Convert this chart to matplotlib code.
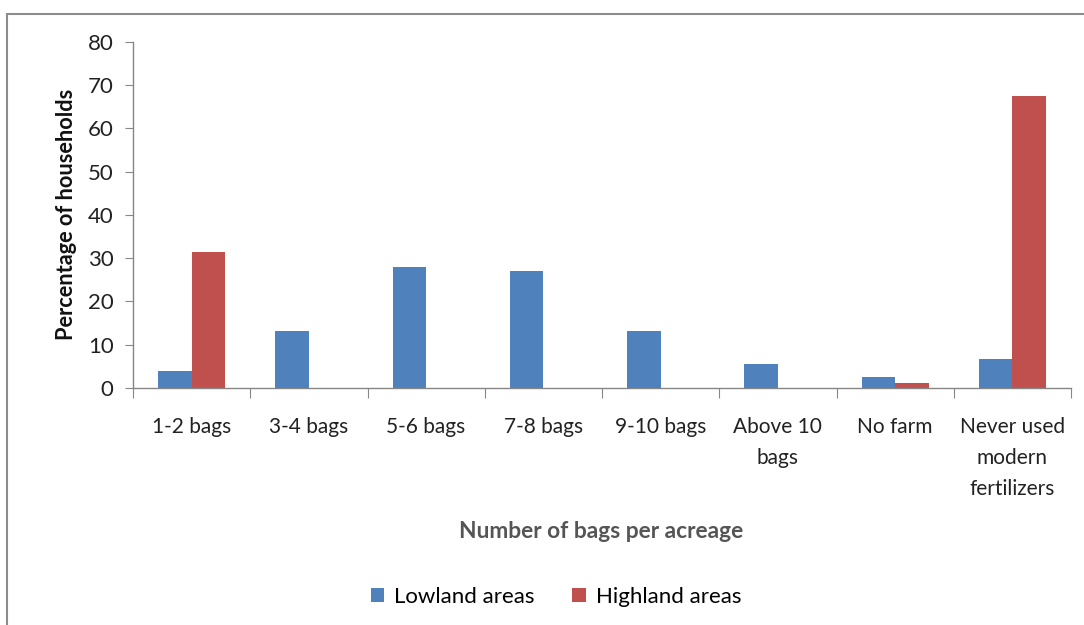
import matplotlib
matplotlib.use("Agg")
import matplotlib.pyplot as plt
import numpy as np
from matplotlib.patches import Rectangle

categories = ["1-2 bags", "3-4 bags", "5-6 bags", "7-8 bags", "9-10 bags",
              "Above 10\nbags", "No farm", "Never used\nmodern\nfertilizers"]
lowland = [3.9, 13.2, 28.0, 27.0, 13.2, 5.5, 2.5, 6.7]
highland = [31.5, 0, 0, 0, 0, 0, 1.2, 67.4]
yticks = [0, 10, 20, 30, 40, 50, 60, 70, 80]

plt.rcParams['font.family'] = ['Lato', 'DejaVu Sans']

W, H = 1084, 625
fig = plt.figure(figsize=(W / 100, H / 100), dpi=100)
fig.patches.append(Rectangle((7 / W, -0.1), 1.2, 1 - 14 / H + 0.1, transform=fig.transFigure,
                             fill=False, edgecolor="#8c8c8c", linewidth=1.5))
ax = fig.add_axes([133 / W, 1 - 388 / H, (1071 - 133) / W, (388 - 41.7) / H])

x = np.arange(len(categories))
bw = 0.285
ax.bar(x - bw / 2, lowland, bw, color="#4F81BD", label="Lowland areas")
ax.bar(x + bw / 2, highland, bw, color="#C0504D", label="Highland areas")

ax.set_xlim(-0.5, len(categories) - 0.5)
ax.set_ylim(0, 80)
ax.set_yticks(yticks)
ax.tick_params(axis='y', labelsize=16, colors="#222222", length=6, color="#868686", pad=8)
ax.set_xticks(np.arange(len(categories) + 1) - 0.5, minor=False)
ax.set_xticklabels([])
ax.tick_params(axis='x', length=7, color="#868686")
for i, c in enumerate(categories):
    ax.text(i, -0.085, c, transform=ax.get_xaxis_transform(), ha='center', va='top',
            fontsize=15, color="#222222", linespacing=1.68)
for s in ["top", "right"]:
    ax.spines[s].set_visible(False)
for s in ["left", "bottom"]:
    ax.spines[s].set_color("#868686")
    ax.spines[s].set_linewidth(1)

ax.set_ylabel("Percentage of households", fontsize=15.7, fontweight='bold', color="#111111", labelpad=8)
fig.text(601 / W, 1 - 531 / H, "Number of bags per acreage", ha='center', va='center',
         fontsize=16.4, fontweight='bold', color="#555555")
fig.legend(loc='center', bbox_to_anchor=(556 / W, 1 - 597 / H), ncol=2, frameon=False,
           fontsize=16, handlelength=0.6, handleheight=0.6, columnspacing=1.7, handletextpad=0.45)

fig.savefig("out.png", dpi=100)
